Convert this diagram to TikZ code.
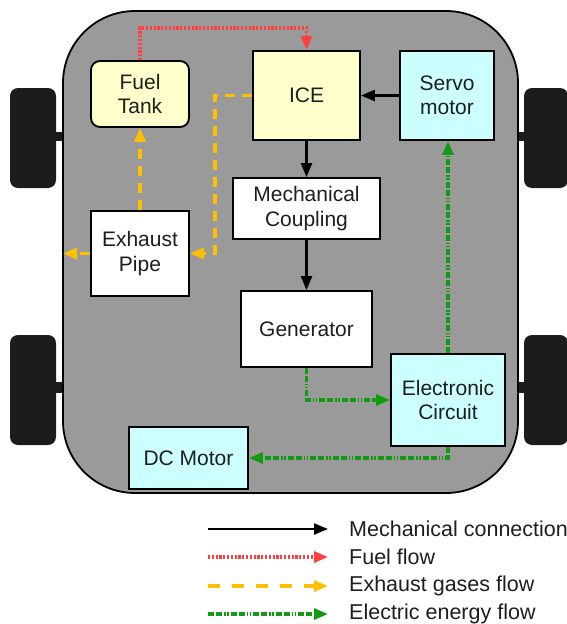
\documentclass[tikz,border=0pt]{standalone}
\usepackage{fontspec}
\setmainfont{Liberation Sans}
\usetikzlibrary{arrows.meta}
\definecolor{body}{HTML}{9A9A9A}
\definecolor{wheel}{HTML}{1C1C1C}
\definecolor{ylw}{HTML}{FFFFCC}
\definecolor{cyn}{HTML}{CCFFFF}
\definecolor{fuelc}{HTML}{FF4040}
\definecolor{exhc}{HTML}{FFC000}
\definecolor{elc}{HTML}{139A13}
\definecolor{txt}{HTML}{1E1E1E}
\tikzset{
  blk/.style={draw=black, line width=1.8pt, text=txt, align=center, inner sep=0pt,
    font=\fontsize{21}{24.5}\selectfont},
  tip/.style={-{Triangle[length=14pt,width=11pt]}},
  mechl/.style={tip, line width=2.4pt, black},
  fuell/.style={tip, line width=3.2pt, fuelc, dash pattern=on 2.2pt off 1.6pt},
  exhl/.style={tip, line width=3.2pt, exhc, dash pattern=on 10pt off 7pt},
  elecl/.style={tip, line width=3.2pt, elc, dash pattern=on 6pt off 2pt on 6pt off 2pt on 1.5pt off 1.5pt on 1.5pt off 2pt},
  legt/.style={anchor=west, text=txt, inner sep=0pt, font=\fontsize{21.5}{24}\selectfont},
  whl/.style={fill=wheel, rounded corners=8pt},
}
\begin{document}
\begin{tikzpicture}[x=1pt,y=-1pt]
\useasboundingbox (0,0) rectangle (567,624);
% wheels and axles
\fill[wheel] (54,132) rectangle (66,141);
\fill[wheel] (54,382) rectangle (66,393);
\fill[wheel] (515,132) rectangle (526,141);
\fill[wheel] (515,382) rectangle (526,393);
\fill[whl] (10,88) rectangle (56,188);
\fill[whl] (10,335) rectangle (56,445);
\fill[whl] (524,88) rectangle (568,188);
\fill[whl] (524,335) rectangle (568,445);
% body
\draw[line width=1.8pt, fill=body, rounded corners=72pt] (63,11) rectangle (518,493);
% boxes
\node[blk, fill=ylw, rounded corners=9pt, minimum width=98pt, minimum height=66pt] (tank) at (140,94) {Fuel\\Tank};
\node[blk, fill=ylw, minimum width=107pt, minimum height=89pt] (ice) at (306.5,95.5) {ICE};
\node[blk, fill=cyn, minimum width=94pt, minimum height=89pt] (servo) at (447,95.5) {Servo\\motor};
\node[blk, fill=white, minimum width=147pt, minimum height=61pt] (mech) at (306.5,208.5) {Mechanical\\Coupling};
\node[blk, fill=white, minimum width=131pt, minimum height=76pt] (gen) at (306.5,329) {Generator};
\node[blk, fill=white, minimum width=98pt, minimum height=85pt] (pipe) at (140,253.5) {Exhaust\\Pipe};
\node[blk, fill=cyn, minimum width=114pt, minimum height=92pt] (elec) at (448,400) {Electronic\\Circuit};
\node[blk, fill=cyn, minimum width=119pt, minimum height=62pt] (dc) at (188.5,458) {DC Motor};
% helper coordinates
\coordinate (ftop) at (140,28);
\coordinate (exx) at (215,0);
\coordinate (exout) at (63,253.5);
% fuel
\draw[fuell] (tank.north) -- (ftop) -| (ice.north);
% exhaust
\draw[exhl] (ice.west) -| (exx |- pipe.north) |- (pipe.east);
\draw[exhl] (pipe.north) -- (tank.south);
\draw[exhl] (pipe.west) -- (exout);
% mechanical
\draw[mechl] (ice.south) -- (mech.north);
\draw[mechl] (mech.south) -- (gen.north);
\draw[mechl] (servo.west) -- (ice.east);
% electric
\draw[elecl] (gen.south) |- (elec.west);
\draw[elecl] (elec.north) -- (elec.north |- servo.south);
\draw[elecl] (elec.south) |- (dc.east);
% legend
\coordinate (l1a) at (208,529); \coordinate (l1b) at (328,529);
\coordinate (l2a) at (208,557); \coordinate (l2b) at (328,557);
\coordinate (l3a) at (208,586); \coordinate (l3b) at (328,586);
\coordinate (l4a) at (208,614); \coordinate (l4b) at (328,614);
\draw[mechl] (l1a) -- (l1b);
\draw[fuell] (l2a) -- (l2b);
\draw[exhl, dash pattern=on 12pt off 12pt] (l3a) -- (l3b);
\draw[elecl] (l4a) -- (l4b);
\node[legt] (t1) at (349,529) {Mechanical connection};
\node[legt] (t2) at (349,557) {Fuel flow};
\node[legt] (t3) at (349,586) {Exhaust gases flow};
\node[legt] (t4) at (349,614) {Electric energy flow};
\end{tikzpicture}
\end{document}
